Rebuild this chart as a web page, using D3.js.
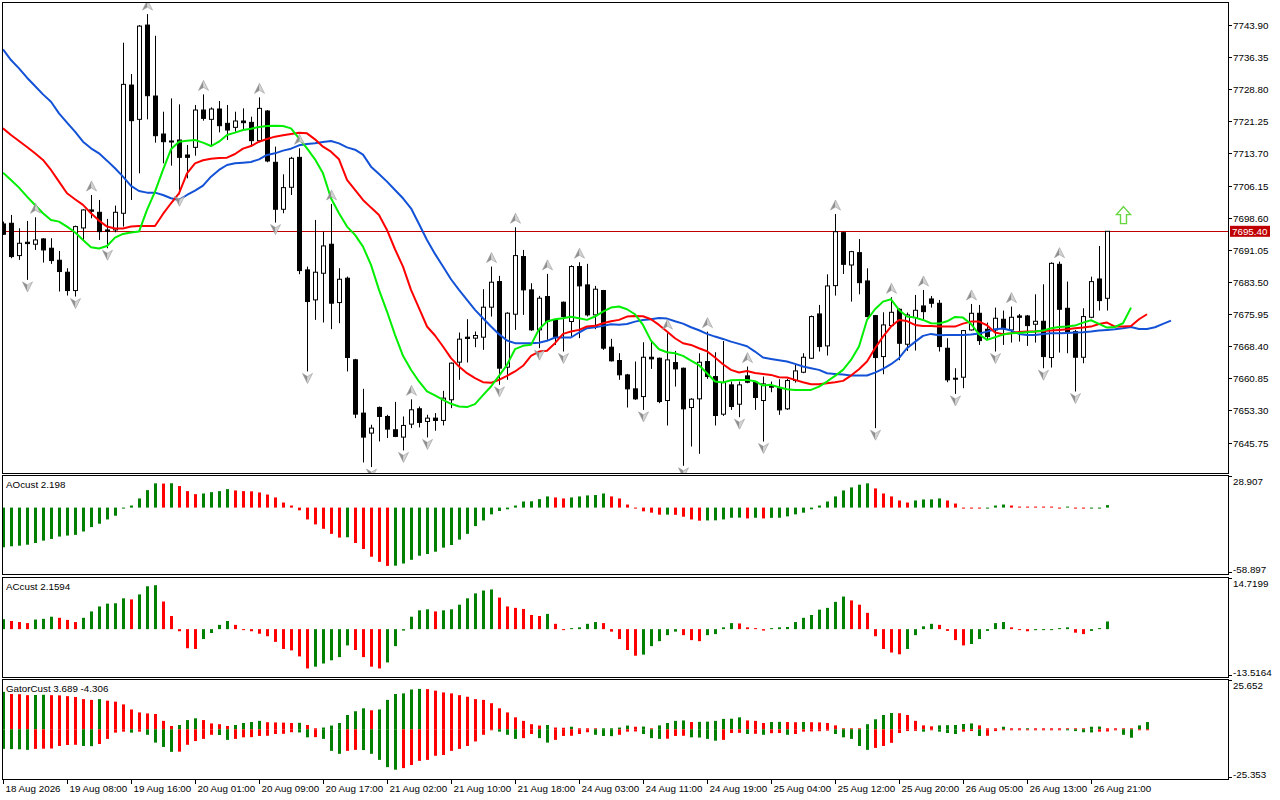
<!doctype html>
<html>
<head>
<meta charset="utf-8">
<title>Alligator / AO / AC / Gator</title>
<script src="https://cdnjs.cloudflare.com/ajax/libs/d3/7.8.5/d3.min.js"></script>
<style>
  body { margin: 0; background: #fff; }
  svg text { font-family: "Liberation Sans", Arial, sans-serif; font-size: 9.8px; fill: #000; }
</style>
</head>
<body>
<div id="chart-area"></div>
<script>
// ---- H1 bars ----
var opens = [7697.13,7697.29,7689.69,7692.83,7692.36,7693.61,7691.42,7688.60,7685.78,7681.47,
 7696.19,7700.42,7699.87,7695.72,7695.72,7699.64,7729.78,7721.72,7743.88,7727.20,
 7718.27,7716.63,7716.86,7713.34,7715.14,7723.91,7721.72,7724.15,7720.78,7719.84,
 7721.33,7721.01,7716.71,7723.68,7711.62,7700.58,7705.75,7712.79,7686.33,7679.28,
 7685.54,7692.36,7678.65,7684.37,7665.19,7652.66,7647.96,7653.99,7651.87,7648.74,
 7647.02,7650.07,7653.68,7650.70,7651.48,7650.94,7655.79,7664.64,7670.51,7670.28,
 7670.51,7677.56,7683.59,7663.46,7675.91,7689.46,7681.63,7672.23,7680.06,7674.58,
 7678.73,7674.19,7687.11,7682.80,7675.75,7681.47,7668.16,7665.03,7661.64,7658.36,
 7656.55,7665.79,7665.56,7655.62,7664.54,7663.21,7653.97,7656.01,7664.78,7661.25,
 7652.41,7659.30,7654.75,7661.41,7659.92,7655.62,7659.14,7658.51,7653.66,7660.31,
 7662.27,7665.56,7675.97,7668.46,7682.63,7695.08,7687.48,7690.38,7683.73,7675.58,
 7665.95,7673.23,7677.07,7668.85,7675.11,7677.85,7679.50,7678.48,7667.91,7660.86,
 7661.10,7672.21,7676.13,7672.37,7672.21,7674.72,7672.21,7675.50,7675.50,7673.55,
 7674.25,7665.72,7687.64,7677.30,7671.82,7665.79,7675.19,7684.19,7679.65];
var highs = [7697.68,7699.25,7696.11,7697.84,7698.70,7693.77,7693.77,7690.79,7686.72,7696.74,
 7700.58,7703.94,7702.77,7698.31,7701.44,7739.73,7732.37,7743.88,7746.46,7741.37,
 7723.52,7726.65,7725.24,7715.69,7725.09,7727.59,7724.54,7726.03,7725.09,7723.52,
 7724.30,7722.34,7726.89,7723.91,7715.30,7708.80,7712.90,7714.91,7687.11,7698.07,
 7695.33,7701.83,7686.72,7684.76,7665.42,7658.37,7649.92,7654.22,7652.27,7655.30,
 7651.87,7655.90,7654.22,7652.27,7652.66,7657.90,7664.56,7671.61,7674.74,7671.84,
 7681.79,7687.11,7684.92,7676.38,7696.35,7691.02,7683.19,7680.22,7685.39,7674.74,
 7678.89,7687.42,7688.13,7687.74,7682.57,7681.63,7670.12,7666.75,7661.88,7664.78,
 7669.32,7669.71,7665.72,7671.43,7667.28,7663.37,7656.16,7666.73,7671.82,7666.97,
 7669.63,7660.08,7660.08,7663.60,7660.08,7661.25,7660.08,7660.63,7660.70,7664.23,
 7666.73,7675.60,7678.09,7685.29,7699.46,7695.31,7690.80,7693.59,7686.70,7675.74,
 7676.36,7679.89,7677.30,7676.29,7680.44,7681.61,7680.20,7679.26,7670.26,7663.21,
 7672.21,7678.32,7678.09,7673.94,7677.46,7676.76,7677.70,7675.97,7675.74,7680.59,
 7682.94,7688.10,7688.27,7683.57,7672.21,7677.30,7684.74,7691.95,7695.40];
var lows = [7694.55,7689.07,7688.68,7683.98,7691.02,7688.05,7687.74,7681.24,7680.30,7680.06,
 7693.37,7698.46,7693.37,7691.42,7695.17,7696.51,7702.77,7709.03,7721.72,7716.24,
 7711.38,7710.83,7704.10,7707.86,7713.18,7721.41,7715.53,7718.66,7716.86,7718.82,
 7719.21,7715.53,7716.32,7711.62,7697.45,7699.64,7703.94,7685.31,7662.45,7674.58,
 7673.96,7672.39,7673.80,7662.45,7651.48,7641.07,7639.97,7646.00,7646.79,7647.02,
 7643.89,7649.13,7649.29,7646.94,7648.51,7649.76,7653.83,7660.49,7664.56,7668.16,
 7667.53,7675.36,7659.31,7660.49,7672.23,7675.75,7672.00,7667.93,7669.88,7668.71,
 7667.14,7670.67,7670.28,7675.36,7672.39,7667.53,7664.79,7660.49,7653.97,7655.77,
 7653.42,7663.05,7654.99,7649.74,7658.90,7640.27,7644.81,7643.09,7660.70,7649.74,
 7652.01,7653.42,7651.70,7659.69,7653.42,7645.98,7657.57,7652.25,7653.42,7659.84,
 7662.04,7665.40,7667.13,7666.19,7680.28,7685.37,7678.87,7680.59,7675.19,7649.12,
 7661.80,7673.00,7665.09,7667.28,7667.36,7674.56,7677.46,7667.13,7659.92,7657.18,
 7658.51,7672.06,7668.69,7669.87,7667.13,7668.69,7669.24,7669.47,7668.46,7669.24,
 7663.21,7663.37,7666.89,7666.73,7657.73,7664.38,7674.96,7676.76,7676.76];
var closes = [7694.71,7689.46,7692.59,7692.51,7693.37,7691.02,7688.52,7685.94,7681.47,7696.51,
 7700.42,7700.11,7695.33,7695.41,7699.87,7729.94,7721.41,7743.64,7727.28,7717.88,
 7716.47,7716.39,7712.79,7712.79,7723.91,7721.95,7724.15,7720.23,7719.21,7721.33,
 7720.94,7716.71,7724.30,7711.93,7700.58,7705.67,7712.56,7686.17,7678.89,7685.78,
 7691.96,7678.50,7684.13,7665.73,7652.42,7647.02,7649.13,7651.87,7648.90,7647.18,
 7649.76,7653.44,7650.47,7651.48,7650.94,7656.18,7664.40,7670.04,7670.20,7670.90,
 7677.56,7683.43,7663.23,7676.15,7689.69,7681.63,7672.23,7679.67,7674.19,7670.67,
 7675.36,7687.11,7682.57,7675.75,7681.79,7667.93,7664.95,7661.66,7658.36,7656.01,
 7665.79,7665.40,7655.38,7665.17,7663.05,7653.66,7655.93,7664.62,7661.25,7652.09,
 7659.84,7654.21,7659.30,7659.92,7656.32,7659.53,7658.75,7653.42,7660.31,7662.58,
 7665.79,7675.35,7668.30,7682.55,7695.31,7687.64,7690.62,7683.33,7675.35,7665.72,
 7673.39,7676.36,7669.08,7675.74,7676.83,7676.52,7678.48,7668.30,7660.47,7660.63,
 7672.06,7676.13,7669.71,7670.65,7674.96,7672.61,7675.19,7675.19,7673.23,7674.25,
 7665.95,7687.87,7677.07,7671.82,7665.79,7675.35,7683.57,7679.11,7695.40];

// ---- Alligator lines (already shifted forward) ----
var jaw = [7738.16,7735.66,7733.70,7731.51,7729.55,7727.59,7725.87,7723.13,7720.94,7718.82,
 7716.47,7714.91,7713.73,7712.01,7710.21,7708.25,7706.06,7704.88,7704.49,7704.49,
 7703.94,7703.16,7702.77,7703.94,7704.96,7706.14,7708.25,7709.82,7710.99,7711.38,
 7711.54,7711.70,7712.32,7713.34,7713.73,7714.36,7714.83,7715.61,7715.92,7716.08,
 7716.39,7716.63,7716.08,7715.14,7714.59,7713.42,7710.60,7708.88,7707.08,7705.12,
 7703.16,7700.81,7697.13,7693.37,7690.09,7687.11,7684.13,7681.63,7679.28,7676.93,
 7674.97,7673.02,7671.22,7669.73,7669.10,7669.10,7669.10,7669.18,7669.65,7670.43,
 7670.43,7670.43,7671.61,7672.62,7672.86,7673.17,7673.56,7673.41,7673.62,7674.17,
 7674.56,7674.72,7675.03,7674.88,7674.25,7673.70,7672.84,7672.14,7671.28,7670.65,
 7670.10,7669.47,7668.93,7668.38,7667.13,7665.72,7665.40,7665.09,7664.78,7664.23,
 7663.60,7663.21,7662.82,7662.04,7661.88,7661.72,7661.49,7661.49,7661.49,7662.19,
 7663.05,7664.15,7665.56,7667.91,7669.40,7670.81,7671.28,7670.96,7671.04,7671.04,
 7671.04,7671.12,7671.35,7671.82,7672.37,7672.53,7672.06,7671.28,7671.04,7671.04,
 7671.28,7671.43,7671.43,7671.51,7671.59,7671.67,7671.82,7672.06,7672.21,7672.37,
 7672.61,7672.92,7672.45,7672.45,7672.84,7673.62,7674.41];
var teeth = [7719.60,7718.04,7716.63,7715.22,7713.73,7712.17,7709.82,7707.08,7704.34,7702.93,
 7701.60,7699.64,7697.92,7696.51,7696.04,7696.04,7696.51,7696.66,7696.66,7696.66,
 7699.48,7701.99,7704.34,7709.03,7711.38,7712.09,7712.48,7712.64,7712.71,7713.58,
 7714.83,7715.45,7716.47,7717.10,7717.65,7717.96,7718.27,7718.59,7718.43,7717.02,
 7715.30,7714.12,7712.32,7707.47,7705.12,7702.77,7700.97,7699.25,7695.72,7691.18,
 7687.11,7681.63,7677.32,7673.02,7670.90,7668.32,7665.58,7663.62,7662.05,7660.88,
 7659.94,7659.78,7660.49,7661.43,7662.45,7663.78,7666.13,7667.14,7667.30,7669.10,
 7671.29,7671.84,7672.23,7673.02,7673.17,7673.80,7674.27,7674.58,7675.35,7675.50,
 7675.43,7674.72,7673.39,7671.82,7670.26,7669.08,7668.69,7667.91,7667.20,7665.72,
 7664.15,7662.82,7662.19,7662.58,7662.11,7661.88,7661.64,7661.10,7661.02,7660.47,
 7659.92,7659.45,7659.45,7659.69,7659.92,7660.24,7661.49,7662.98,7664.78,7667.91,
 7670.65,7673.00,7674.56,7674.30,7673.39,7673.15,7673.15,7673.00,7673.00,7673.00,
 7673.70,7674.17,7674.17,7673.31,7671.59,7671.20,7671.43,7671.75,7671.82,7671.82,
 7671.98,7672.06,7672.21,7672.37,7672.61,7672.76,7673.00,7673.62,7673.94,7673.00,
 7673.00,7673.15,7674.72,7675.90];
var lips = [7709.19,7707.47,7705.67,7703.55,7701.60,7699.64,7698.07,7697.68,7696.51,7695.17,
 7693.37,7691.65,7691.34,7691.96,7693.92,7694.78,7695.10,7695.33,7700.42,7704.73,
 7709.82,7714.67,7716.47,7716.71,7716.86,7716.24,7715.45,7716.47,7718.04,7718.59,
 7719.21,7719.53,7719.92,7720.15,7720.23,7720.15,7719.60,7717.26,7714.91,7712.32,
 7709.03,7703.16,7699.64,7696.51,7694.55,7691.81,7687.50,7681.63,7676.54,7671.06,
 7666.13,7662.84,7660.10,7657.75,7656.81,7655.79,7654.85,7654.22,7654.07,7654.77,
 7656.89,7658.92,7661.43,7664.01,7667.69,7668.47,7668.71,7672.39,7674.19,7674.74,
 7674.97,7675.29,7674.97,7674.58,7675.36,7676.54,7677.48,7677.71,7677.07,7675.90,
 7673.39,7669.71,7667.67,7666.97,7666.73,7666.11,7665.01,7663.92,7662.04,7660.08,
 7659.84,7660.39,7660.47,7660.47,7660.16,7659.14,7659.30,7658.75,7658.28,7658.12,
 7658.12,7658.12,7658.90,7660.08,7661.41,7662.82,7665.17,7668.30,7674.56,7677.07,
 7678.87,7679.42,7676.92,7675.35,7675.11,7674.56,7673.78,7673.70,7674.25,7675.27,
 7675.11,7673.62,7671.20,7669.87,7670.49,7671.12,7671.43,7671.51,7671.67,7671.82,
 7672.06,7672.61,7672.92,7673.00,7673.23,7673.94,7674.49,7673.62,7672.76,7672.92,
 7673.78,7677.46];

// ---- fractals and signal ----
var fractalUp = [4,11,18,25,32,37,41,51,61,64,68,72,83,88,93,104,111,115,121,126,132];
var fractalDown = [3,9,13,22,34,38,46,50,53,62,67,70,80,85,92,95,109,119,124,130,134];
var buySignalBar = [140];
var buySignalPrice = [7701.2];
var lastPrice = 7695.40;

// ---- oscillators ----
var aoValues = [-35.2,-34.3,-33.8,-32.9,-31.4,-29.3,-27.8,-25.7,-24.8,-24.2,
 -21.2,-17.3,-14.3,-10.5,-7.2,-0.6,1.8,8.1,15.5,21.5,
 21.3,21.6,19.1,14.6,11.9,12.5,13.7,14.6,16.4,15.2,
 14.6,14.4,13.4,11.6,9.0,4.5,1.8,-2.4,-10.5,-14.9,
 -18.8,-23.3,-26.6,-26.3,-31.4,-36.7,-43.6,-48.1,-51.7,-51.5,
 -49.6,-46.3,-42.7,-41.2,-39.1,-35.5,-33.2,-28.4,-23.3,-16.4,
 -11.4,-6.0,-3.0,-1.5,1.8,5.4,5.6,7.5,9.9,9.0,
 8.1,9.0,9.9,10.8,11.1,12.5,9.9,8.1,2.7,-0.5,
 -3.3,-4.5,-6.3,-6.2,-6.4,-8.1,-10.5,-11.6,-11.4,-11.3,
 -10.5,-9.0,-8.9,-9.6,-9.0,-9.6,-9.1,-9.0,-7.8,-6.0,
 -4.5,-1.5,1.8,5.4,9.9,15.2,17.9,20.3,21.5,17.0,
 12.5,9.9,6.3,4.5,6.3,7.2,7.3,8.1,6.3,3.6,
 -0.3,-0.5,-0.6,-0.2,1.8,2.7,1.8,0.5,0.3,0.2,
 0.1,0.0,-0.1,0.6,-0.2,-0.3,-0.2,-0.1,2.198];
var acValues = [2.8,2.3,2.0,1.7,2.7,2.9,3.5,3.2,2.6,2.0,
 3.2,5.0,6.4,7.2,7.3,8.7,8.4,9.8,12.1,12.4,
 7.8,3.7,-0.6,-5.4,-5.6,-2.8,-1.1,1.2,2.3,1.2,
 -0.1,-0.6,-1.3,-2.0,-3.6,-5.6,-6.0,-7.7,-11.1,-10.6,
 -9.7,-8.8,-7.9,-4.6,-5.9,-7.9,-10.6,-11.1,-9.4,-4.8,
 -0.4,3.5,5.3,5.6,5.0,5.3,5.6,6.9,8.7,10.1,
 10.9,11.2,8.9,6.4,6.0,5.7,4.0,3.7,4.3,1.5,
 -0.1,0.2,0.5,1.5,2.0,1.7,-0.7,-2.8,-5.9,-7.5,
 -7.2,-4.8,-3.4,-1.7,-0.7,-1.7,-3.1,-3.4,-1.7,-1.4,
 0.5,1.7,1.6,0.5,0.2,-0.4,0.0,0.5,0.6,2.0,
 3.2,4.0,5.5,6.0,7.7,9.2,8.1,6.9,4.6,-2.0,
 -5.6,-6.6,-7.1,-5.6,-1.7,0.8,1.5,1.2,-0.5,-3.1,
 -4.6,-4.2,-2.8,-0.5,1.7,2.0,0.5,-0.1,-0.6,-0.3,
 -0.2,-0.1,0.2,0.5,-1.0,-1.4,-0.5,0.2,2.1594];
var gatorUpper = [19.1,18.0,17.9,17.4,17.5,17.6,17.4,17.3,16.9,16.5,
 15.4,15.0,15.4,14.6,14.1,12.7,10.1,8.6,8.1,7.8,
 4.3,1.7,2.2,4.7,5.6,4.7,3.0,2.6,1.7,2.2,
 3.2,3.7,4.3,3.6,3.5,3.4,3.2,3.3,2.2,0.5,
 0.9,1.9,3.2,7.3,9.2,10.7,9.7,10.1,15.0,18.0,
 18.3,20.3,20.6,20.5,19.7,18.8,18.3,17.4,16.6,15.4,
 15.0,13.3,10.7,8.6,6.1,4.3,2.6,1.9,2.2,0.9,
 0.8,1.3,0.5,0.4,0.05,0.1,0.5,0.9,1.9,1.3,
 1.4,0.05,2.0,3.2,4.3,4.5,3.7,3.8,3.9,4.3,
 5.3,5.4,6.1,4.5,4.3,3.2,3.7,3.8,3.7,3.6,
 3.7,3.6,3.5,3.2,2.0,0.5,0.3,0.2,2.6,5.1,
 7.3,8.3,8.2,7.3,4.3,2.0,1.5,2.0,2.1,2.2,
 2.7,3.0,2.0,0.5,0.4,1.3,0.5,0.4,0.5,0.4,
 0.3,0.2,0.1,0.05,0.04,0.0,1.3,1.4,0.5,0.4,
 0.02,0.01,2.0,3.689];
var gatorLower = [-10.0,-10.1,-10.2,-10.5,-10.0,-9.9,-9.8,-8.5,-8.0,-7.9,
 -8.5,-8.6,-7.5,-4.9,-1.7,-1.2,-1.7,-1.2,-2.8,-6.8,
 -9.0,-11.5,-11.4,-7.9,-6.0,-4.9,-2.8,-2.9,-5.4,-4.9,
 -4.1,-4.0,-3.4,-3.3,-2.4,-2.3,-1.5,-1.6,-4.1,-4.0,
 -4.9,-11.0,-12.5,-11.0,-10.5,-10.6,-12.5,-15.6,-19.3,-20.6,
 -19.8,-18.2,-16.1,-15.6,-13.5,-13.1,-11.0,-10.0,-8.5,-6.2,
 -2.8,-0.4,-1.2,-2.8,-4.9,-4.5,-2.4,-4.5,-6.8,-5.4,
 -3.4,-3.3,-2.4,-1.5,-2.8,-3.4,-3.5,-2.8,-1.2,-1.1,
 -2.4,-4.5,-4.9,-4.8,-3.4,-3.3,-4.1,-4.2,-4.9,-5.8,
 -5.4,-1.9,-1.8,-2.4,-2.3,-2.8,-2.0,-1.9,-2.8,-2.4,
 -1.2,-1.1,-1.0,-0.7,-2.4,-4.1,-4.9,-8.5,-10.5,-9.5,
 -8.5,-6.9,-1.9,-0.9,-0.8,-1.2,-0.5,-1.2,-1.9,-2.4,
 -1.2,-0.9,-3.4,-3.3,-0.9,-0.1,-0.05,-0.04,-0.03,-0.02,
 -0.02,-0.01,-0.01,-0.4,-0.9,-1.5,-1.6,-1.2,-1.1,-0.4,
 -2.8,-4.306,-0.05,-0.02];

// ---- axis labels ----
var priceTicks = [7743.90,7736.35,7728.80,7721.25,7713.70,7706.15,7698.60,7691.05,7683.50,7675.95,7668.40,7660.85,7653.30,7645.75];
var timeLabels = ["18 Aug 2026","19 Aug 08:00","19 Aug 16:00","20 Aug 01:00","20 Aug 09:00","20 Aug 17:00",
 "21 Aug 02:00","21 Aug 10:00","21 Aug 18:00","24 Aug 03:00","24 Aug 11:00","24 Aug 19:00",
 "25 Aug 04:00","25 Aug 12:00","25 Aug 20:00","26 Aug 05:00","26 Aug 13:00","26 Aug 21:00"];
var labelStep = 8;
var aoRange = [-58.897, 28.907], acRange = [-13.5164, 14.7199], gatorRange = [-25.353, 25.652];

var UP = "#008000", DOWN = "#ff0000";

var left = 2, right = 1228;
var panels = {
	main:  { top: 2,   bottom: 473 },
	ao:    { top: 475, bottom: 574 },
	ac:    { top: 577, bottom: 677 },
	gator: { top: 679, bottom: 779 }
};

var svg = d3.select("#chart-area").append("svg")
	.attr("width", 1280)
	.attr("height", 800);

var defs = svg.append("defs");
Object.keys(panels).forEach(function(k) {
	var p = panels[k];
	defs.append("clipPath").attr("id", "clip-" + k)
		.append("rect")
		.attr("x", left + 1).attr("y", p.top + 1)
		.attr("width", right - left - 1).attr("height", p.bottom - p.top - 1);
});

// bar index -> pixel
var x = d3.scaleLinear().domain([0, 140]).range([3, 1123]);
var y = d3.scaleLinear().domain([7645.75, 7743.90]).range([442.5, 25]);
var px = function(i) { return Math.round(x(i)); };

// panel frames
Object.keys(panels).forEach(function(k) {
	var p = panels[k];
	svg.append("rect")
		.attr("x", left + 0.5).attr("y", p.top + 0.5)
		.attr("width", right - left).attr("height", p.bottom - p.top)
		.attr("fill", "none").attr("stroke", "#000").attr("stroke-width", 1);
});

// ===== main panel =====
var g = svg.append("g").attr("clip-path", "url(#clip-main)");
var bars = d3.range(closes.length);

// bid line
g.append("line")
	.attr("x1", left).attr("x2", right)
	.attr("y1", Math.round(y(lastPrice)) + 0.5).attr("y2", Math.round(y(lastPrice)) + 0.5)
	.attr("stroke", "#c00000").attr("stroke-width", 1);

g.selectAll(".wick").data(bars).join("line")
	.attr("class", "wick")
	.attr("x1", function(i) { return px(i) + 0.5; })
	.attr("x2", function(i) { return px(i) + 0.5; })
	.attr("y1", function(i) { return y(highs[i]); })
	.attr("y2", function(i) { return y(lows[i]); })
	.attr("stroke", "#000").attr("stroke-width", 1);

g.selectAll(".body").data(bars).join("rect")
	.attr("class", "body")
	.attr("x", function(i) { return px(i) - 1.5; })
	.attr("width", 4)
	.attr("y", function(i) { return y(Math.max(opens[i], closes[i])); })
	.attr("height", function(i) { return Math.max(0.5, Math.abs(y(opens[i]) - y(closes[i]))); })
	.attr("fill", function(i) { return closes[i] >= opens[i] ? "#fff" : "#000"; })
	.attr("stroke", "#000").attr("stroke-width", 1);

var line = d3.line()
	.x(function(d, i) { return x(i); })
	.y(function(d) { return y(d); });

[[jaw, "#1352d6"], [teeth, "#ff0000"], [lips, "#00ee00"]].forEach(function(s) {
	g.append("path")
		.attr("d", line(s[0]))
		.attr("fill", "none")
		.attr("stroke", s[1])
		.attr("stroke-width", 2)
		.attr("stroke-linejoin", "round");
});

// fractal arrows: s = 1 points up, s = -1 points down
function fractal(sel, s) {
	var tip = "M0," + (-5 * s), notch = " L0," + (2 * s), l = " L-5," + (5 * s), r = " L5," + (5 * s);
	sel.append("path").attr("d", tip + l + notch + " Z").attr("fill", "#8e8e8e");
	sel.append("path").attr("d", tip + r + notch + " Z").attr("fill", "#d4d4d4");
	sel.append("path").attr("d", tip + r + notch + l + " Z")
		.attr("fill", "none").attr("stroke", "#9a9a9a").attr("stroke-width", 0.6);
}
g.selectAll(".fup").data(fractalUp).join("g")
	.attr("class", "fup")
	.attr("transform", function(i) { return "translate(" + (px(i) + 0.5) + "," + (y(highs[i]) - 9) + ")"; })
	.each(function() { fractal(d3.select(this), 1); });
g.selectAll(".fdn").data(fractalDown).join("g")
	.attr("class", "fdn")
	.attr("transform", function(i) { return "translate(" + (px(i) + 0.5) + "," + (y(lows[i]) + 7) + ")"; })
	.each(function() { fractal(d3.select(this), -1); });

// buy signal arrow
buySignalBar.forEach(function(b, k) {
	g.append("path")
		.attr("transform", "translate(" + (px(b) + 0.5) + "," + y(buySignalPrice[k]) + ")")
		.attr("d", "M0,0 L7,8 L3,8 L3,17 L-3,17 L-3,8 L-7,8 Z")
		.attr("fill", "#fff")
		.attr("stroke", "#66d640")
		.attr("stroke-width", 1.4)
		.attr("stroke-linejoin", "miter");
});

// price axis
var axisG = svg.append("g");
priceTicks.forEach(function(p) {
	var yy = Math.round(y(p)) + 0.5;
	axisG.append("line").attr("x1", right).attr("x2", right + 4)
		.attr("y1", yy).attr("y2", yy).attr("stroke", "#000");
	axisG.append("text").attr("x", right + 5).attr("y", yy)
		.attr("dominant-baseline", "central")
		.text(d3.format(".2f")(p));
});
var yl = y(lastPrice);
axisG.append("rect")
	.attr("x", right + 2).attr("y", yl - 5.5)
	.attr("width", 40).attr("height", 11)
	.attr("fill", "#c00000");
axisG.append("text").attr("x", right + 4).attr("y", yl)
	.attr("dominant-baseline", "central")
	.style("fill", "#fff")
	.text(d3.format(".2f")(lastPrice));

// ===== oscillator panels =====
function colorsByChange(vals, useAbs) {
	return vals.map(function(v, i) {
		if (i === 0) return UP;
		var a = useAbs ? Math.abs(v) : v, b = useAbs ? Math.abs(vals[i - 1]) : vals[i - 1];
		return a > b ? UP : DOWN;
	});
}

function histogram(panelKey, domain, series, useAbs, label, topLabel, bottomLabel) {
	var p = panels[panelKey];
	var ys = d3.scaleLinear().domain(domain).range([p.bottom, p.top]);
	var pg = svg.append("g").attr("clip-path", "url(#clip-" + panelKey + ")");
	series.forEach(function(vals) {
		var cols = colorsByChange(vals, useAbs);
		pg.append("g").selectAll("rect").data(vals).join("rect")
			.attr("x", function(d, i) { return px(i) - 1; })
			.attr("width", 3)
			.attr("y", function(d) {
				var h = Math.max(1, Math.abs(ys(d) - ys(0)));
				return d >= 0 ? ys(0) - h : ys(0);
			})
			.attr("height", function(d) { return Math.max(1, Math.abs(ys(d) - ys(0))); })
			.attr("fill", function(d, i) { return cols[i]; });
	});
	svg.append("text").attr("x", 6).attr("y", p.top + 9).attr("dominant-baseline", "central").text(label);
	svg.append("line").attr("x1", right).attr("x2", right + 4)
		.attr("y1", p.top + 1.5).attr("y2", p.top + 1.5).attr("stroke", "#000");
	svg.append("line").attr("x1", right).attr("x2", right + 4)
		.attr("y1", p.bottom - 1.5).attr("y2", p.bottom - 1.5).attr("stroke", "#000");
	svg.append("text").attr("x", right + 5).attr("y", p.top + 6).attr("dominant-baseline", "central").text(topLabel);
	svg.append("text").attr("x", right + 5).attr("y", p.bottom - 5).attr("dominant-baseline", "central").text(bottomLabel);
}

histogram("ao", aoRange, [aoValues], false, "AOcust 2.198", "28.907", "-58.897");
histogram("ac", acRange, [acValues], false, "ACcust 2.1594", "14.7199", "-13.5164");
histogram("gator", gatorRange, [gatorUpper, gatorLower], true, "GatorCust 3.689 -4.306", "25.652", "-25.353");

// time axis
var tg = svg.append("g");
timeLabels.forEach(function(t, k) {
	var xx = px(k * labelStep) + 0.5;
	tg.append("line").attr("x1", xx).attr("x2", xx)
		.attr("y1", panels.gator.bottom).attr("y2", panels.gator.bottom + 5)
		.attr("stroke", "#000");
	tg.append("text").attr("x", xx + 2).attr("y", 788)
		.attr("dominant-baseline", "central")
		.text(t);
});
</script>
</body>
</html>
